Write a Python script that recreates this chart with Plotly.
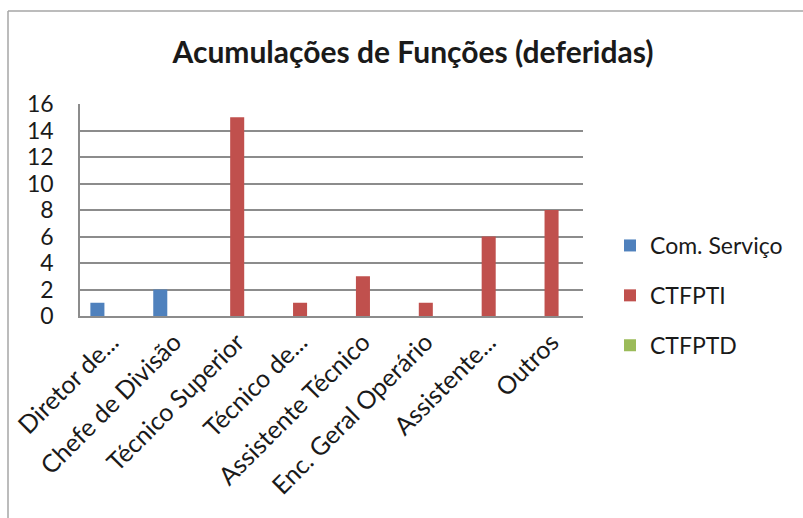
import plotly.graph_objects as go

categorias = [
    "Diretor de...", "Chefe de Divisão", "Técnico Superior", "Técnico de...",
    "Assistente Técnico", "Enc. Geral Operário", "Assistente...", "Outros"
]
com_servico = [1, 2, 0, 0, 0, 0, 0, 0]
ctfpti = [0, 0, 15, 1, 3, 1, 6, 8]
ctfptd = [0, 0, 0, 0, 0, 0, 0, 0]
y_ticks = [0, 2, 4, 6, 8, 10, 12, 14, 16]

FONTE = "Lato"
COR_TEXTO = "#1a1a1a"
COR_GRELHA = "#8c8c8c"

fig = go.Figure()
series = [
    ("Com. Serviço", com_servico, "#4F81BD"),
    ("CTFPTI", ctfpti, "#C0504D"),
    ("CTFPTD", ctfptd, "#9BBB59"),
]
for nome, valores, cor in series:
    fig.add_trace(go.Bar(
        x=categorias, y=valores, name=nome,
        marker=dict(color=cor, line=dict(width=0)),
        legendgroup=nome,
    ))

# margens em pixels -> limites da área de desenho
W, H = 803, 518
L, R, T, B = 80, 220, 104, 202
pw, ph = W - L - R, H - T - B

def px_x(p):
    return (p - L) / pw

def px_y(p):
    return (H - B - p) / ph

fig.update_layout(
    width=W, height=H,
    margin=dict(l=L, r=R, t=T, b=B, autoexpand=False),
    paper_bgcolor="white", plot_bgcolor="white",
    font=dict(family=FONTE, size=23, color=COR_TEXTO),
    title=dict(
        text="<b>Acumulações de Funções (deferidas)</b>",
        x=px_x(413), xanchor="center", xref="paper",
        y=1 - 52 / H, yanchor="middle",
        font=dict(family=FONTE, size=30, color=COR_TEXTO),
    ),
    barmode="group", bargap=0.33, bargroupgap=0,
    showlegend=True,
    legend=dict(
        x=px_x(610), xanchor="left",
        y=px_y(224), yanchor="top",
        font=dict(size=23),
        traceorder="grouped", tracegroupgap=17,
        itemclick=False,
    ),
    shapes=[
        # moldura do gráfico (topo e esquerda)
        dict(type="line", xref="paper", yref="paper",
             x0=px_x(8), x1=px_x(803), y0=px_y(11), y1=px_y(11),
             line=dict(color="#a6a6a6", width=1.5)),
        dict(type="line", xref="paper", yref="paper",
             x0=px_x(8), x1=px_x(8), y0=px_y(11), y1=px_y(518),
             line=dict(color="#a6a6a6", width=1.5)),
    ],
)
fig.update_xaxes(
    tickangle=-45, showgrid=False,
    showline=True, linecolor=COR_GRELHA, linewidth=1.5,
    ticks="", tickfont=dict(size=25),
)
fig.update_yaxes(
    range=[0, 16], tickvals=y_ticks,
    showgrid=True, gridcolor=COR_GRELHA, gridwidth=1.5,
    showline=True, linecolor=COR_GRELHA, linewidth=1.5,
    zeroline=False, ticks="", tickfont=dict(size=23),
    ticklabelstandoff=20,
)

# sem margem do body, para a figura ocupar a janela toda
fig.write_html(
    "out.html",
    config={"displayModeBar": False},
    post_script="document.body.style.margin='0';",
)
